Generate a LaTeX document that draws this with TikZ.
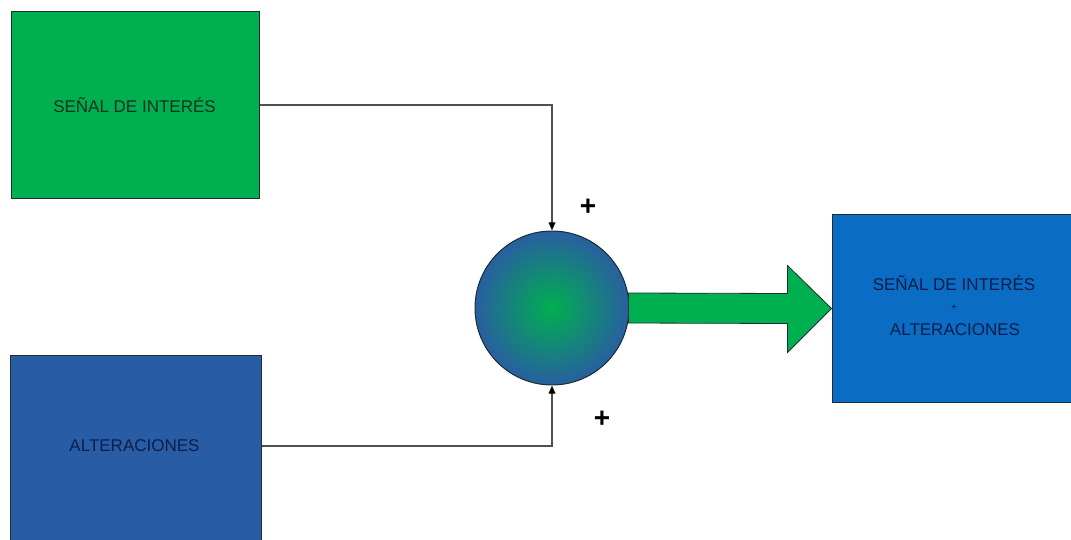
\documentclass[tikz,border=0pt]{standalone}
\usepackage{fontspec}
\setmainfont{Liberation Sans}
\usetikzlibrary{calc,arrows.meta}
\definecolor{boxgreen}{RGB}{0,176,80}
\definecolor{boxblueA}{RGB}{40,92,165}
\definecolor{boxblueB}{RGB}{10,108,195}
\definecolor{txtgreen}{RGB}{15,50,30}
\definecolor{txtblue}{RGB}{12,30,75}
\definecolor{linegray}{RGB}{80,80,80}
\definecolor{edge}{RGB}{30,45,50}
\begin{document}
\begin{tikzpicture}[x=1pt,y=1pt,
  box/.style={draw=edge, line width=1pt, rectangle, inner sep=0pt},
  lbl/.style={inner sep=0pt, font=\fontsize{17}{20}\selectfont},
  conn/.style={draw=linegray, line width=1.6pt, -{Triangle[length=8pt,width=6.5pt,color=black]}},
  plus/.style={font=\fontsize{28}{28}\selectfont\bfseries, inner sep=0pt}]
\useasboundingbox (0,0) rectangle (1071,539);
\fill[white] (0,0) rectangle (1071,539);
\node[box, fill=boxgreen, minimum width=248, minimum height=187] (sig) at (135,433.5) {};
\node[lbl, text=txtgreen] (sigt) at (134.5,434) {SEÑAL DE INTERÉS};
\node[box, fill=boxblueA, minimum width=251, minimum height=190] (alt) at (135.5,89) {};
\node[lbl, text=txtblue] (altt) at (134.5,93) {ALTERACIONES};
\node[box, fill=boxblueB, minimum width=241, minimum height=187] (out) at (952.5,230.5) {};
\node[lbl, text=txtblue] (outa) at (954,256) {SEÑAL DE INTERÉS};
\node[inner sep=0pt, text=txtblue, font=\fontsize{10}{10}\selectfont] (outp) at (954,231) {+};
\node[lbl, text=txtblue] (outb) at (955,209) {ALTERACIONES};
\node[circle, draw=edge, line width=1pt, minimum size=154, inner sep=0pt,
  inner color={rgb,255:red,0;green,175;blue,80}, outer color={rgb,255:red,40;green,95;blue,160}] (sum) at (552,231) {};
\draw[conn] (sig.east |- sigt) -| (sum.north);
\draw[conn] (alt.east |- altt) -| (sum.south);
\draw[draw=edge, line width=0.8pt, fill=boxgreen]
  ($(sum.east)+(-1,15)$) -- ($(out.west)+(-44,15)$) -- ($(out.west)+(-44,43)$) -- (out.west)
  -- ($(out.west)+(-44,-44)$) -- ($(out.west)+(-44,-15)$) -- ($(sum.east)+(-1,-15)$) -- cycle;
\node[plus] (p1) at (588,332) {+};
\node[plus] (p2) at (602,120) {+};
\end{tikzpicture}
\end{document}
